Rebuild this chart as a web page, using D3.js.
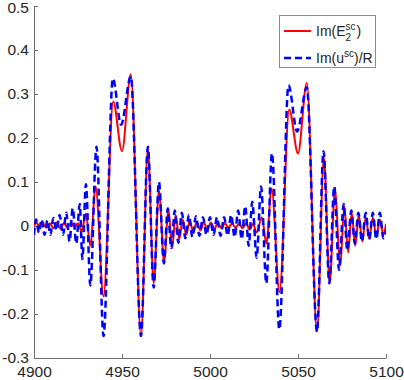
<!DOCTYPE html>
<html>
<head>
<meta charset="utf-8">
<script src="https://cdn.jsdelivr.net/npm/d3@7"></script>
<style>
  body { margin: 0; background: #fff; }
  svg { display: block; font-family: "Liberation Sans", Arial, sans-serif; }
</style>
</head>
<body>
<div id="chart"></div>
<script>
// axis ticks
var xTicks = [4900, 4950, 5000, 5050, 5100];
var yTicks = [-0.3, -0.2, -0.1, 0, 0.1, 0.2, 0.3, 0.4, 0.5];
var yTickLabels = ["-0.3", "-0.2", "-0.1", "0", "0.1", "0.2", "0.3", "0.4", "0.5"];

// Im(E2^sc) - red solid, read at the turning points
var redX = [4900, 4901.5, 4903, 4905, 4907, 4909, 4911, 4913, 4915, 4917, 4919, 4921, 4923, 4925, 4927,
    4929.5, 4932, 4935, 4939.5, 4945, 4950, 4955, 4960.8, 4964.7, 4968, 4971, 4974, 4976.3, 4978.5,
    4980.5, 4982.5, 4984.5, 4986.5, 4988.5, 4990.5, 4992.5, 4994.5, 4996.5, 4998.5, 5000.5, 5002.5,
    5004.5, 5006.5, 5008.5, 5010.5, 5012.5, 5014.5, 5016.5, 5018.5, 5020.5, 5022.5, 5024.5, 5026.5,
    5029.5, 5032, 5035, 5039.5, 5045, 5050, 5055, 5060.8, 5064.7, 5068, 5071, 5074, 5076.3, 5078.5,
    5080.5, 5082.5, 5084.5, 5086.5, 5088.5, 5090.5, 5092.5, 5094.5, 5096.5, 5098.5, 5100];
var redY = [0, 0.008, -0.002, 0.007, -0.004, 0.006, -0.005, 0.008, -0.006, 0.006, -0.004, 0.008, -0.003, 0.006, -0.012,
    0.028, -0.045, 0.09, -0.16, 0.283, 0.17, 0.345, -0.25, 0.175, -0.13, 0.08, -0.085, 0.04, -0.05,
    0.025, -0.03, 0.015, -0.02, 0.012, -0.015, 0.01, -0.01, 0.008, -0.008, 0.008, -0.006,
    0.006, -0.005, 0.006, -0.004, 0.006, -0.004, 0.005, -0.005, 0.006, -0.008, 0.005, -0.015,
    0.02, -0.04, 0.085, -0.15, 0.265, 0.165, 0.325, -0.24, 0.155, -0.13, 0.08, -0.09, 0.045, -0.06,
    0.03, -0.045, 0.025, -0.035, 0.02, -0.03, 0.02, -0.025, 0.015, -0.02, 0.005];

// Im(u^sc)/R - blue dashed
var blueX = [4900, 4901.2, 4902.8, 4904.3, 4906, 4907.6, 4909.3, 4911, 4912.8, 4914.5, 4916.5, 4918.3, 4920.2,
    4922, 4924, 4926, 4927.5, 4929.5, 4932, 4935.5, 4939.5, 4944.8, 4949.5, 4955, 4960.8, 4964.7, 4968,
    4971, 4973.8, 4976, 4978, 4980, 4982, 4984, 4986, 4988, 4990, 4992, 4994, 4996, 4998, 5000, 5002,
    5004, 5006, 5008, 5010, 5012, 5014, 5016, 5018, 5020, 5022, 5024, 5026.5, 5029, 5032, 5035.2,
    5039.4, 5044.6, 5049.5, 5055, 5060.8, 5064.5, 5067.8, 5070.6, 5073.3, 5076, 5078, 5080.3, 5082.3,
    5084.3, 5086.3, 5088.5, 5090.5, 5092.5, 5094.5, 5096.5, 5098.5, 5100];
var blueY = [-0.02, 0.015, -0.015, 0.015, -0.02, 0.013, -0.02, 0.018, -0.01, 0.025, -0.02, 0.03, -0.035,
    0.04, -0.04, 0.05, -0.075, 0.095, -0.135, 0.18, -0.25, 0.335, 0.23, 0.34, -0.25, 0.18, -0.14,
    0.1, -0.085, 0.04, -0.05, 0.035, -0.038, 0.03, -0.028, 0.025, -0.025, 0.022, -0.022, 0.02, -0.02, 0.02, -0.02,
    0.02, -0.022, 0.02, -0.022, 0.025, -0.025, 0.035, -0.03, 0.045, -0.045, 0.055, -0.072, 0.09, -0.13, 0.165,
    -0.235, 0.32, 0.215, 0.315, -0.24, 0.17, -0.13, 0.09, -0.1, 0.05, -0.055, 0.035, -0.04,
    0.03, -0.035, 0.03, -0.03, 0.03, -0.03, 0.03, -0.028, -0.01];

function init(){

    var w = 404;
    var h = 380;
    var left = 34, right = 386, top = 6, bottom = 358;
    var axisColor = "#262626";

    var xScale = d3.scaleLinear()
                    .domain([4900, 5100])
                    .range([left, right]);
    var yScale = d3.scaleLinear()
                    .domain([-0.3, 0.5])
                    .range([bottom, top]);

    var svg = d3.select("#chart")
                .append("svg")
                .attr("width", w)
                .attr("height", h);

    svg.append("clipPath")
        .attr("id", "plotclip")
        .append("rect")
        .attr("x", left)
        .attr("y", top)
        .attr("width", right - left)
        .attr("height", bottom - top);

    // axes, ticks point inward like matlab
    var xAxis = svg.append("g")
        .attr("transform", "translate(0," + bottom + ")")
        .call(d3.axisBottom(xScale)
            .tickValues(xTicks)
            .tickFormat(d3.format("d"))
            .tickSizeInner(-4)
            .tickSizeOuter(0)
            .tickPadding(8));

    var yAxis = svg.append("g")
        .attr("transform", "translate(" + left + ",0)")
        .call(d3.axisLeft(yScale)
            .tickValues(yTicks)
            .tickFormat(function(d, i){ return yTickLabels[i]; })
            .tickSizeInner(-4)
            .tickSizeOuter(0)
            .tickPadding(5));

    [xAxis, yAxis].forEach(function(a){
        a.select(".domain").attr("stroke", "#6e6e6e").attr("stroke-width", 1);
        a.selectAll(".tick line").attr("stroke", "#6e6e6e");
        a.selectAll(".tick text")
            .attr("fill", axisColor)
            .attr("font-size", "15.5px")
            .attr("font-family", "Liberation Sans, Arial, sans-serif");
    });
    // top label sits a little low so it stays inside the page
    yAxis.selectAll(".tick text")
        .filter(function(d){ return d === 0.5; })
        .attr("dy", "0.45em");

    var redData = redX.map(function(d, i){ return [d, redY[i]]; });
    var blueData = blueX.map(function(d, i){ return [d, blueY[i]]; });

    var line = d3.line()
        .x(function(d){ return xScale(d[0]); })
        .y(function(d){ return yScale(d[1]); })
        .curve(d3.curveMonotoneX);

    var plot = svg.append("g").attr("clip-path", "url(#plotclip)");

    plot.append("path")
        .datum(redData)
        .attr("d", line)
        .attr("fill", "none")
        .attr("stroke", "#ff0000")
        .attr("stroke-width", 2);

    plot.append("path")
        .datum(blueData)
        .attr("d", line)
        .attr("fill", "none")
        .attr("stroke", "#0000ff")
        .attr("stroke-width", 2.5)
        .attr("stroke-dasharray", "7,4");

    //legend
    var lg = svg.append("g");
    lg.append("rect")
        .attr("x", 279.5)
        .attr("y", 15.5)
        .attr("width", 96)
        .attr("height", 52)
        .attr("fill", "#fff")
        .attr("stroke", "#8c8c8c")
        .attr("stroke-width", 1);

    lg.append("line")
        .attr("x1", 284).attr("x2", 311)
        .attr("y1", 31).attr("y2", 31)
        .attr("stroke", "#ff0000")
        .attr("stroke-width", 2);

    lg.append("line")
        .attr("x1", 284).attr("x2", 311)
        .attr("y1", 58).attr("y2", 58)
        .attr("stroke", "#0000ff")
        .attr("stroke-width", 2.5)
        .attr("stroke-dasharray", "7,4");

    var fs = 14, fsSmall = 10;

    // Im(E_2^sc)
    var t1 = lg.append("text")
        .attr("x", 316).attr("y", 36)
        .attr("font-size", fs + "px")
        .attr("fill", axisColor)
        .text("Im(E");
    var w1 = t1.node().getComputedTextLength();
    var s1 = lg.append("text")
        .attr("x", 316 + w1).attr("y", 30)
        .attr("font-size", fsSmall + "px")
        .attr("fill", axisColor)
        .text("sc");
    lg.append("text")
        .attr("x", 316 + w1).attr("y", 41)
        .attr("font-size", fsSmall + "px")
        .attr("fill", axisColor)
        .text("2");
    lg.append("text")
        .attr("x", 316 + w1 + s1.node().getComputedTextLength() + 1).attr("y", 36)
        .attr("font-size", fs + "px")
        .attr("fill", axisColor)
        .text(")");

    // Im(u^sc)/R
    var t2 = lg.append("text")
        .attr("x", 316).attr("y", 63)
        .attr("font-size", fs + "px")
        .attr("fill", axisColor)
        .text("Im(u");
    var w2 = t2.node().getComputedTextLength();
    var s2 = lg.append("text")
        .attr("x", 316 + w2).attr("y", 57)
        .attr("font-size", fsSmall + "px")
        .attr("fill", axisColor)
        .text("sc");
    lg.append("text")
        .attr("x", 316 + w2 + s2.node().getComputedTextLength()).attr("y", 63)
        .attr("font-size", fs + "px")
        .attr("fill", axisColor)
        .text(")/R");
}

window.onload = init;
</script>
</body>
</html>
